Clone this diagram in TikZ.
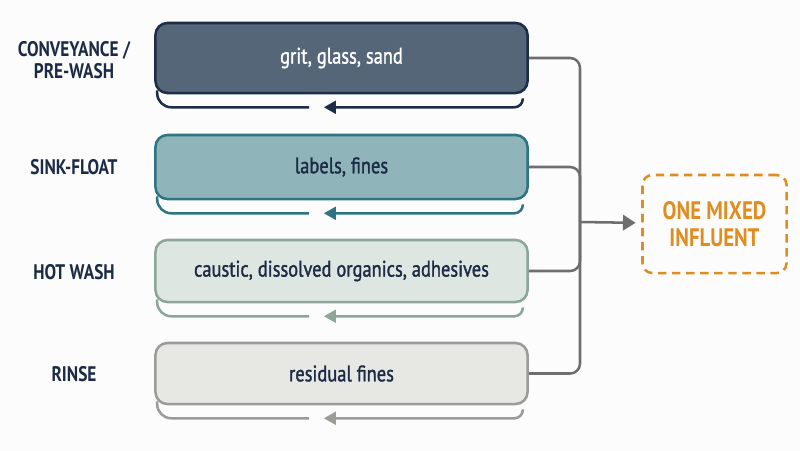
\documentclass[tikz,border=0pt]{standalone}
\usepackage{fontspec}
\setmainfont{PT Sans}[FakeStretch=0.82]
\newfontfamily\stagefont{PT Sans}[FakeStretch=0.82, FakeBold=1.3]
\usetikzlibrary{arrows.meta}

\definecolor{navy}{HTML}{1C2B45}
\definecolor{convfill}{HTML}{566679}
\definecolor{convline}{HTML}{1B2D48}
\definecolor{sinkfill}{HTML}{8FB4B9}
\definecolor{sinkline}{HTML}{2E7581}
\definecolor{hotfill}{HTML}{DEE6E1}
\definecolor{hotline}{HTML}{8CA69A}
\definecolor{rinsefill}{HTML}{E7E7E4}
\definecolor{rinseline}{HTML}{9B9B98}
\definecolor{linkgrey}{HTML}{6E6E6E}
\definecolor{mixorange}{HTML}{E08D20}

\tikzset{
  stage/.style={rounded corners=8.5pt, line width=1.8pt, minimum width=9.3cm,
    text=navy, font=\stagefont\fontsize{16}{18}\selectfont},
  phase/.style={text=navy, align=center, font=\fontsize{15}{15.5}\selectfont\bfseries},
  tray/.style={line width=1.8pt, rounded corners=10pt},
  link/.style={linkgrey, line width=1.8pt, rounded corners=7pt}
}

\begin{document}
\begin{tikzpicture}[x=0.025cm, y=-0.025cm]

\fill[white!99!black] (0,0) rectangle (800,450);
\useasboundingbox (0,0) rectangle (800,450);

\node[stage, fill=convfill, draw=convline, text=white, minimum height=1.75cm] (conv) at (341.5,58) {grit, glass, sand};
\node[stage, fill=sinkfill, draw=sinkline, minimum height=1.6cm] (sink) at (341.5,167) {labels, fines};
\node[stage, fill=hotfill, draw=hotline, minimum height=1.55cm] (hot) at (341.5,271) {caustic, dissolved organics, adhesives};
\node[stage, fill=rinsefill, draw=rinseline, minimum height=1.525cm] (rinse) at (341.5,373.5) {residual fines};

\node[phase] (conv label) at (74,60) {CONVEYANCE /\\PRE-WASH};
\node[phase] (sink label) at (74,167) {SINK-FLOAT};
\node[phase] (hot label) at (74,272) {HOT WASH};
\node[phase] (rinse label) at (74,374) {RINSE};

% trays under each stage
\draw[tray, convline] ([shift={(3,-4)}]conv.south west) |- ([shift={(155,13)}]conv.south west);
\draw[tray, convline, rounded corners=6pt, -{Triangle[length=8.5pt,width=9pt]}] ([shift={(-6,4)}]conv.south east) |- ([shift={(-205,13)}]conv.south east);
\draw[tray, sinkline] ([shift={(3,-4)}]sink.south west) |- ([shift={(155,13)}]sink.south west);
\draw[tray, sinkline, rounded corners=6pt, -{Triangle[length=8.5pt,width=9pt]}] ([shift={(-6,4)}]sink.south east) |- ([shift={(-205,13)}]sink.south east);
\draw[tray, hotline] ([shift={(3,-4)}]hot.south west) |- ([shift={(155,13)}]hot.south west);
\draw[tray, hotline, rounded corners=6pt, -{Triangle[length=8.5pt,width=9pt]}] ([shift={(-6,4)}]hot.south east) |- ([shift={(-205,13)}]hot.south east);
\draw[tray, rinseline] ([shift={(3,-4)}]rinse.south west) |- ([shift={(155,13)}]rinse.south west);
\draw[tray, rinseline, rounded corners=6pt, -{Triangle[length=8.5pt,width=9pt]}] ([shift={(-6,4)}]rinse.south east) |- ([shift={(-205,13)}]rinse.south east);

% mixed output
\node[draw=mixorange, dashed, dash pattern=on 6pt off 4pt, line width=1.8pt, rounded corners=7pt,
  minimum width=3.6cm, minimum height=2.45cm, text=mixorange, align=center,
  font=\fontsize{18}{19.5}\selectfont\bfseries] (mix) at (714.5,224) {ONE MIXED\\INFLUENT};

\coordinate (join) at (580,222);

\draw[link] (conv.east) -| (join) |- (rinse.east);
\draw[link] (sink.east) -| (join);
\draw[link] (hot.east) -| (join);
\draw[link, -{Triangle[length=9pt,width=11pt]}, shorten >=4pt] (join) -- (mix);

\end{tikzpicture}
\end{document}
